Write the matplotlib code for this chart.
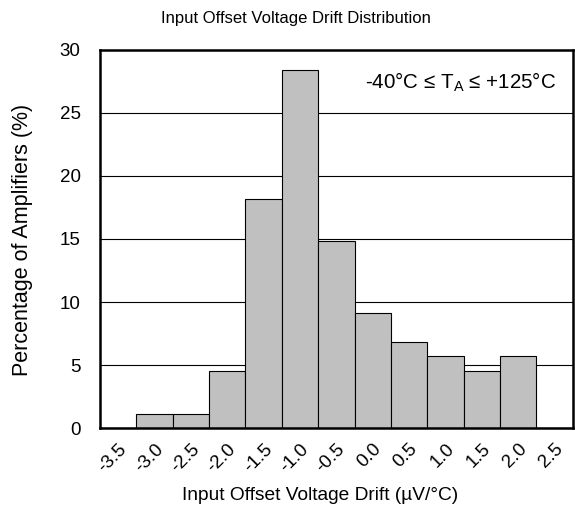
import numpy as np
import matplotlib.pyplot as plt

plt.rcParams['font.family'] = ['Liberation Sans', 'DejaVu Sans']

# bins (uV/C) and percentage of amplifiers in each
bins = ['-3.5', '-3.0', '-2.5', '-2.0', '-1.5', '-1.0', '-0.5',
        '0.0', '0.5', '1.0', '1.5', '2.0', '2.5']
percent = [0, 1.1, 1.1, 4.5, 18.2, 28.4, 14.8, 9.1, 6.8, 5.7, 4.5, 5.7, 0]

fig = plt.figure(figsize=(5.75, 5.09), dpi=100)
ax = fig.add_axes([0.174, 0.159, 0.822, 0.743])

x = np.arange(len(bins))
ax.bar(x, percent, width=1.0, color='#c0c0c0', edgecolor='black',
       linewidth=0.8, zorder=3)

ax.set_xlim(-0.5, len(bins) - 0.5)
ax.set_ylim(0, 30)
ax.set_yticks(np.arange(0, 31, 5))
ax.set_xticks(x)
ax.set_xticklabels(bins, rotation=45, ha='right', va='top',
                   rotation_mode='anchor')
ax.tick_params(length=0, labelsize=13.5)
ax.tick_params(axis='y', pad=14)
ax.tick_params(axis='x', pad=9)
ax.grid(axis='y', color='black', linewidth=0.8, zorder=0)
for s in ax.spines.values():
    s.set_linewidth(1.8)
    s.set_zorder(4)

ax.set_xlabel('Input Offset Voltage Drift (µV/°C)', fontsize=13.8, labelpad=0)
ax.xaxis.set_label_coords(0.557, 0, transform=fig.transFigure)
ax.xaxis.label.set_va('center')
ax.xaxis.label.set_y(14 / 509)
ax.set_ylabel('Percentage of Amplifiers (%)', fontsize=15.5)
ax.yaxis.set_label_coords(23 / 575, 0.5 - 0 / 509)
ax.yaxis.label.set_transform(fig.transFigure)
ax.yaxis.label.set_va('center')
ax.yaxis.label.set_position((23 / 575, 1 - 240 / 509))
fig.text(0.515, 1 - 18 / 509, 'Input Offset Voltage Drift Distribution',
         ha='center', va='center', fontsize=12)
ax.text(0.965, 0.945, '-40°C ≤ T$_\\mathregular{A}$ ≤ +125°C',
        transform=ax.transAxes, ha='right', va='top', fontsize=14.8)

fig.savefig('out.png', dpi=100)
